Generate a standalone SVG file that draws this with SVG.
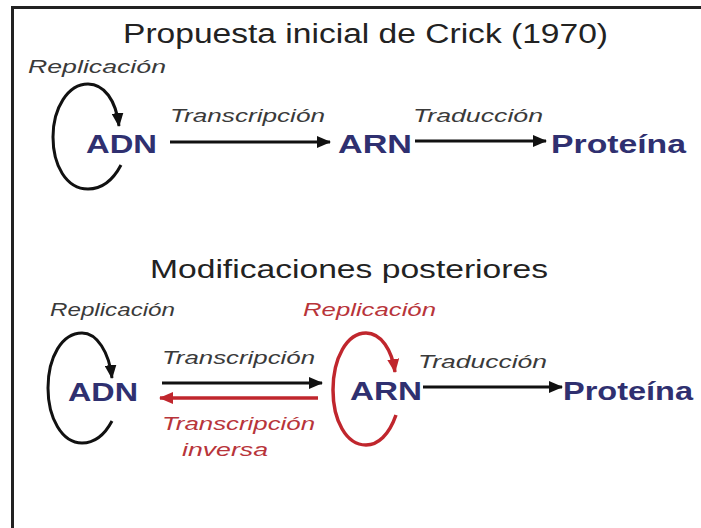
<svg xmlns="http://www.w3.org/2000/svg" width="701" height="528" viewBox="0 0 701 528">
<defs>
<style>
.t{font-family:"Liberation Sans",Arial,sans-serif}
.title{font-size:27px;fill:#222}
.lab{font-size:18px;font-style:italic;fill:#3a3a3a}
.red{fill:#b8343a}
.node{font-size:26px;font-weight:bold;fill:#2f3070}
.ln{fill:none;stroke:#111;stroke-width:3}
.rl{fill:none;stroke:#c0262d;stroke-width:3.5}
</style>
<marker id="ah" markerUnits="userSpaceOnUse" markerWidth="14" markerHeight="12" viewBox="0 0 14 12" refX="13" refY="6" orient="auto">
<path d="M0,0 L14,6 L0,12 Z" fill="#111"/>
</marker>
<marker id="ahr" markerUnits="userSpaceOnUse" markerWidth="14" markerHeight="12" viewBox="0 0 14 12" refX="13" refY="6" orient="auto">
<path d="M0,0 L14,6 L0,12 Z" fill="#c0262d"/>
</marker>
</defs>
<rect width="701" height="528" fill="#fff"/>
<g id="frame">
<path d="M12.5,6 V528 M11,7.5 H701" stroke="#222" stroke-width="3" fill="none"/>
</g>
<g id="titles">
<text class="t title" x="123" y="43" textLength="485" lengthAdjust="spacingAndGlyphs">Propuesta inicial de Crick (1970)</text>
<text class="t title" x="150" y="278" textLength="398" lengthAdjust="spacingAndGlyphs" style="font-size:25px">Modificaciones posteriores</text>
</g>
<g id="connectors">
<path class="ln" d="M121,165 C112,182 100,189 88,189 C66,189 53,165 53,137 C53,108 68,84 88,84 C104,84 116,100 119,126" marker-end="url(#ah)"/>
<path class="ln" d="M170,142 H330" marker-end="url(#ah)"/>
<path class="ln" d="M415,141 H546" marker-end="url(#ah)"/>
<path class="ln" d="M112,421 C104,436 94,443 82,443 C62,443 48,418 48,388 C48,357 62,333 82,333 C97,333 109,352 112,378" marker-end="url(#ah)"/>
<path class="ln" d="M162,383 H322" marker-end="url(#ah)"/>
<path class="rl" d="M318,398 H160" marker-end="url(#ahr)"/>
<path class="rl" d="M396,415 C389,435 378,445 366,445 C346,445 333,420 333,390 C333,358 347,333 366,333 C381,333 392,350 395,372" marker-end="url(#ahr)"/>
<path class="ln" d="M423,387 H562" marker-end="url(#ah)"/>
</g>
<g id="labels">
<text class="t lab" x="28" y="73" textLength="138" lengthAdjust="spacingAndGlyphs">Replicación</text>
<text class="t lab" x="170" y="122" textLength="155" lengthAdjust="spacingAndGlyphs">Transcripción</text>
<text class="t lab" x="413" y="122" textLength="130" lengthAdjust="spacingAndGlyphs">Traducción</text>
<text class="t lab" x="50" y="316" textLength="125" lengthAdjust="spacingAndGlyphs">Replicación</text>
<text class="t lab red" x="303" y="316" textLength="133" lengthAdjust="spacingAndGlyphs">Replicación</text>
<text class="t lab" x="162" y="364" textLength="153" lengthAdjust="spacingAndGlyphs">Transcripción</text>
<text class="t lab red" x="162" y="430" textLength="153" lengthAdjust="spacingAndGlyphs">Transcripción</text>
<text class="t lab red" x="182" y="456" textLength="86" lengthAdjust="spacingAndGlyphs">inversa</text>
<text class="t lab" x="418" y="368" textLength="129" lengthAdjust="spacingAndGlyphs">Traducción</text>
</g>
<g id="adn1"><text class="t node" x="86" y="153" textLength="71" lengthAdjust="spacingAndGlyphs">ADN</text></g>
<g id="arn1"><text class="t node" x="338" y="153" textLength="74" lengthAdjust="spacingAndGlyphs">ARN</text></g>
<g id="prot1"><text class="t node" x="551" y="153" textLength="135" lengthAdjust="spacingAndGlyphs">Proteína</text></g>
<g id="adn2"><text class="t node" x="68" y="401" textLength="70" lengthAdjust="spacingAndGlyphs">ADN</text></g>
<g id="arn2"><text class="t node" x="350" y="400" textLength="72" lengthAdjust="spacingAndGlyphs">ARN</text></g>
<g id="prot2"><text class="t node" x="563" y="400" textLength="130" lengthAdjust="spacingAndGlyphs">Proteína</text></g>
</svg>
